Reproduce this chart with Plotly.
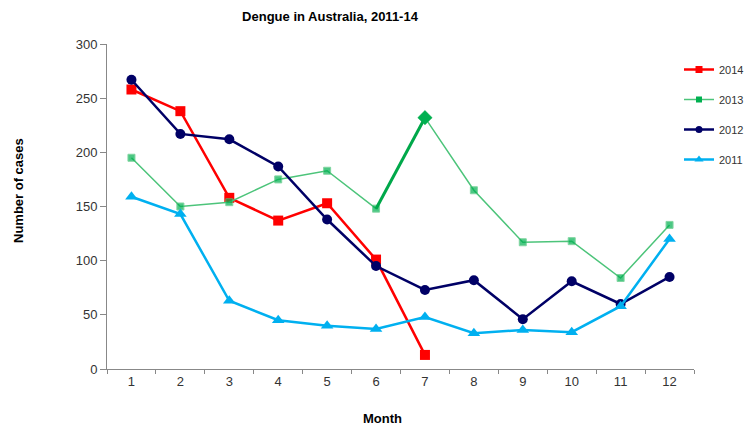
import plotly.graph_objects as go

months = [1, 2, 3, 4, 5, 6, 7, 8, 9, 10, 11, 12]
y2014 = [258, 238, 158, 137, 153, 101, 13]
y2013 = [195, 150, 154, 175, 183, 148, 232, 165, 117, 118, 84, 133]
y2012 = [267, 217, 212, 187, 138, 95, 73, 82, 46, 81, 60, 85]
y2011 = [159, 143, 63, 45, 40, 37, 48, 33, 36, 34, 58, 120]

C14, C13, C13L, C12, C11 = "#FF0000", "#00B050", "#4CC47A", "#000066", "#00B0F0"

W, H = 749, 429
L, T, B = 107, 44, 60
PW = W - L  # paper width with r=0


def px(xp):
    return (xp - L) / PW


def py(yp):
    return (369 - yp) / 325


fig = go.Figure()

fig.add_trace(go.Scatter(
    x=months[:len(y2014)], y=y2014, name="2014", mode="lines+markers",
    line=dict(color=C14, width=2.5),
    marker=dict(symbol="square", size=10, color=C14), showlegend=False))

sym2013 = ["square"] * len(y2013)
sym2013[6] = "diamond"
size2013 = [7] * len(y2013)
size2013[6] = 11
fig.add_trace(go.Scatter(
    x=months, y=y2013, name="2013", mode="lines+markers",
    line=dict(color=C13L, width=1.5),
    marker=dict(symbol=sym2013, size=size2013, color=C13), showlegend=False))
fig.add_trace(go.Scatter(
    x=months[5:7], y=y2013[5:7], mode="lines", showlegend=False,
    line=dict(color="#00A84A", width=3), hoverinfo="skip"))
fig.add_trace(go.Scatter(
    x=[months[6]], y=[y2013[6]], mode="markers", showlegend=False,
    marker=dict(symbol="diamond", size=11, color=C13), hoverinfo="skip"))

fig.add_trace(go.Scatter(
    x=months, y=y2012, name="2012", mode="lines+markers",
    line=dict(color=C12, width=2.5),
    marker=dict(symbol="circle", size=10, color=C12), showlegend=False))

fig.add_trace(go.Scatter(
    x=months, y=y2011, name="2011", mode="lines+markers",
    line=dict(color=C11, width=2.5),
    marker=dict(symbol="triangle-up", size=11, color=C11), showlegend=False))

# legend entries (smaller legend symbols, as in the reference)
for name, col, w, sym, sz, grp in [
        ("2014", C14, 2.5, "square", 7, "a"),
        ("2013", C13L, 1.5, "square", 6, "b"),
        ("2012", C12, 2.5, "circle", 7, "c"),
        ("2011", C11, 2.5, "triangle-up", 8, "d")]:
    fig.add_trace(go.Scatter(
        x=[None], y=[None], name=name, mode="lines+markers",
        line=dict(color=col, width=w),
        marker=dict(symbol=sym, size=sz, color=C13 if name == "2013" else col),
        legendgroup=grp, showlegend=True))

fig.update_layout(
    width=W, height=H,
    margin=dict(l=L, r=0, t=T, b=B),
    paper_bgcolor="white", plot_bgcolor="white",
    font=dict(family="Liberation Sans, Arial, sans-serif", size=12, color="#333333"),
    title=dict(text="<b>Dengue in Australia, 2011-14</b>", x=330 / W, xanchor="center",
               y=0.962, yanchor="middle", font=dict(size=13, color="#000000")),
    showlegend=True,
    legend=dict(x=1.0, xanchor="right",
                y=py(55), yanchor="top",
                font=dict(size=11, color="#333333"), tracegroupgap=11,
                itemwidth=30, bgcolor="rgba(0,0,0,0)"),
    annotations=[
        dict(text="<b>Month</b>", xref="paper", yref="paper",
             x=px(382), y=py(419), xanchor="center", yanchor="middle",
             showarrow=False, font=dict(size=13, color="#000000")),
        dict(text="<b>Number of cases</b>", xref="paper", yref="paper",
             x=px(18), y=py(191), xanchor="center", yanchor="middle",
             textangle=-90, showarrow=False, font=dict(size=13, color="#000000")),
    ],
)

fig.update_xaxes(
    domain=[0, (694 - L) / PW],
    range=[0.5, 12.5], tickmode="array", tickvals=months, automargin=False,
    showgrid=False, zeroline=False, showline=True, linecolor="#888888", linewidth=1,
    ticks="", tickfont=dict(size=13, color="#333333"),
    minor=dict(tickmode="array", tickvals=[m + 0.5 for m in [0] + months],
               ticks="outside", ticklen=4, tickcolor="#888888", showgrid=False))

fig.update_yaxes(
    range=[0, 300], tickmode="array", tickvals=[0, 50, 100, 150, 200, 250, 300],
    automargin=False,
    showgrid=False, zeroline=False, showline=True, linecolor="#888888", linewidth=1,
    ticks="outside", ticklen=6, tickcolor="#888888",
    tickfont=dict(size=13, color="#333333"))

fig.write_html("out.html", config={"displayModeBar": False},
               post_script="document.body.style.margin='0';")
